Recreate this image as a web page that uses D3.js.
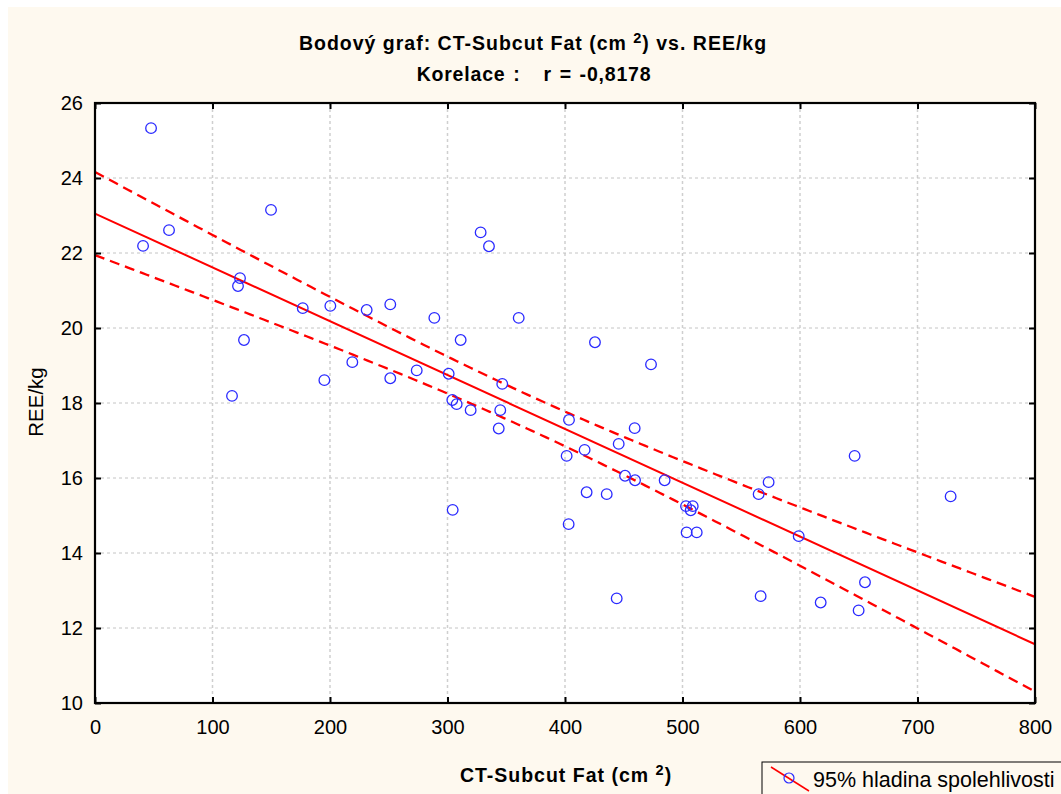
<!DOCTYPE html>
<html>
<head>
<meta charset="utf-8">
<script src="https://cdn.jsdelivr.net/npm/d3@7"></script>
<style>
  body { margin: 0; background: #ffffff; }
  text { font-family: "Liberation Sans", Arial, sans-serif; }
</style>
</head>
<body>
<div id="chart-container"></div>
<script>
// scatter of CT subcut fat vs REE/kg, with fitted line + 95% band
const svgWidth = 1061;
const svgHeight = 794;
const plot = { left: 95, right: 1035, top: 103, bottom: 703 };

// values
const fatValues = [47.7, 40.9, 63.0, 149.8, 123.4, 121.7, 126.8, 116.6, 176.8, 195.2,
    200.3, 328.2, 335.3, 231.2, 251.3, 288.8, 360.6, 311.2, 219.0, 251.3,
    273.8, 301.0, 346.6, 304.1, 307.8, 319.7, 344.9, 343.6, 403.4, 445.7,
    416.7, 401.4, 451.1, 418.4, 435.5, 304.4, 403.1, 444.0, 459.3, 459.6,
    484.8, 503.0, 508.7, 507.0, 503.5, 512.1, 564.8, 573.3, 566.5, 646.5,
    728.2, 598.9, 655.3, 617.6, 649.9, 425.5, 473.2];
const reeValues = [25.33, 22.19, 22.61, 23.15, 21.33, 21.12, 19.68, 18.19, 20.53, 18.61,
    20.59, 22.55, 22.18, 20.48, 20.63, 20.27, 20.27, 19.68, 19.09, 18.66,
    18.87, 18.78, 18.51, 18.08, 17.97, 17.81, 17.81, 17.32, 17.55, 16.91,
    16.75, 16.59, 16.06, 15.62, 15.57, 15.15, 14.77, 12.79, 17.33, 15.94,
    15.94, 15.25, 15.25, 15.14, 14.55, 14.55, 15.57, 15.89, 12.85, 16.59,
    15.51, 14.45, 13.22, 12.68, 12.47, 19.62, 19.03];
const xTicks = [0, 100, 200, 300, 400, 500, 600, 700, 800];
const yTicks = [10, 12, 14, 16, 18, 20, 22, 24, 26];

const data = fatValues.map((v, i) => ({ x: v, y: reeValues[i] }));

const svg = d3.select("#chart-container")
    .append("svg")
    .attr("width", svgWidth)
    .attr("height", svgHeight);

// cream background
svg.append("rect")
    .attr("x", 8).attr("y", 7)
    .attr("width", svgWidth - 8).attr("height", svgHeight - 7)
    .attr("fill", "#fef9ef");

const x = d3.scaleLinear().domain([0, 800]).range([plot.left, plot.right]);
const y = d3.scaleLinear().domain([10, 26]).range([plot.bottom, plot.top]);

svg.append("rect")
    .attr("x", plot.left).attr("y", plot.top)
    .attr("width", plot.right - plot.left).attr("height", plot.bottom - plot.top)
    .attr("fill", "#ffffff");

// grid
svg.append("g").selectAll("line")
    .data(xTicks.slice(1, -1))
    .enter().append("line")
    .attr("x1", d => x(d)).attr("x2", d => x(d))
    .attr("y1", plot.top).attr("y2", plot.bottom)
    .attr("stroke", "#cfcfcf").attr("stroke-width", 1.5)
    .attr("stroke-dasharray", "3,3");
svg.append("g").selectAll("line")
    .data(yTicks.slice(1, -1))
    .enter().append("line")
    .attr("y1", d => y(d)).attr("y2", d => y(d))
    .attr("x1", plot.left).attr("x2", plot.right)
    .attr("stroke", "#c4c4c4").attr("stroke-width", 1)
    .attr("stroke-dasharray", "3,3");

// least squares fit
const n = data.length;
const mx = d3.mean(data, d => d.x);
const my = d3.mean(data, d => d.y);
const sxx = d3.sum(data, d => (d.x - mx) ** 2);
const sxy = d3.sum(data, d => (d.x - mx) * (d.y - my));
const slope = sxy / sxx;
const intercept = my - slope * mx;
const sres = Math.sqrt(d3.sum(data, d => (d.y - intercept - slope * d.x) ** 2) / (n - 2));
const tval = 2.004;

const grid = d3.range(0, 801, 4);
const band = k => grid.map(v => {
    const fit = intercept + slope * v;
    const se = sres * Math.sqrt(1 / n + (v - mx) ** 2 / sxx);
    return [v, fit + k * tval * se];
});
const line = d3.line().x(d => x(d[0])).y(d => y(d[1]));

svg.append("path")
    .datum([[0, intercept], [800, intercept + slope * 800]])
    .attr("d", line)
    .attr("fill", "none").attr("stroke", "#ff0000").attr("stroke-width", 2);
[1, -1].forEach(k => {
    svg.append("path")
        .datum(band(k))
        .attr("d", line)
        .attr("fill", "none").attr("stroke", "#ff0000").attr("stroke-width", 2.3)
        .attr("stroke-dasharray", "10,6");
});

// points
svg.append("g").selectAll("circle")
    .data(data)
    .enter().append("circle")
    .attr("cx", d => x(d.x))
    .attr("cy", d => y(d.y))
    .attr("r", 5.3)
    .attr("fill", "none")
    .attr("stroke", "#2a2aff")
    .attr("stroke-width", 1.3);

// frame + inward ticks
svg.append("rect")
    .attr("x", plot.left).attr("y", plot.top)
    .attr("width", plot.right - plot.left).attr("height", plot.bottom - plot.top)
    .attr("fill", "none").attr("stroke", "#000").attr("stroke-width", 2.2);

const xb = svg.append("g").attr("transform", `translate(0,${plot.bottom})`)
    .call(d3.axisBottom(x).tickValues(xTicks).tickSizeInner(-6).tickSizeOuter(0).tickPadding(17));
const xt = svg.append("g").attr("transform", `translate(0,${plot.top})`)
    .call(d3.axisTop(x).tickValues(xTicks).tickSizeInner(-6).tickSizeOuter(0).tickFormat(""));
const yl = svg.append("g").attr("transform", `translate(${plot.left},0)`)
    .call(d3.axisLeft(y).tickValues(yTicks).tickSizeInner(-6).tickSizeOuter(0).tickPadding(12));
const yr = svg.append("g").attr("transform", `translate(${plot.right},0)`)
    .call(d3.axisRight(y).tickValues(yTicks).tickSizeInner(-6).tickSizeOuter(0).tickFormat(""));
[xb, xt, yl, yr].forEach(g => {
    g.select(".domain").remove();
    g.selectAll("line").attr("stroke", "#000").attr("stroke-width", 2);
    g.selectAll("text").attr("font-size", 20).attr("fill", "#000")
        .attr("font-family", "'Liberation Sans', Arial, sans-serif");
});

// titles
const t1 = svg.append("text")
    .attr("x", 533).attr("y", 50)
    .attr("text-anchor", "middle")
    .attr("font-size", 19.5).attr("font-weight", "bold")
    .attr("letter-spacing", 1);
t1.append("tspan").text("Bodový graf: CT-Subcut Fat (cm ");
t1.append("tspan").text("2").attr("dy", -7).attr("font-size", 14.5);
t1.append("tspan").text(") vs. REE/kg").attr("dy", 7);

svg.append("text")
    .attr("x", 534).attr("y", 81)
    .attr("text-anchor", "middle")
    .attr("font-size", 19.5).attr("font-weight", "bold")
    .attr("letter-spacing", 0.8)
    .attr("word-spacing", 1.5)
    .attr("xml:space", "preserve")
    .style("white-space", "pre")
    .text("Korelace :   r = -0,8178");

const xl = svg.append("text")
    .attr("x", 566).attr("y", 782)
    .attr("text-anchor", "middle")
    .attr("font-size", 19.5).attr("font-weight", "bold")
    .attr("letter-spacing", 1);
xl.append("tspan").text("CT-Subcut Fat (cm ");
xl.append("tspan").text("2").attr("dy", -7).attr("font-size", 14.5);
xl.append("tspan").text(")").attr("dy", 7);

svg.append("text")
    .attr("transform", "translate(43,402) rotate(-90)")
    .attr("text-anchor", "middle")
    .attr("font-size", 20.5)
    .text("REE/kg");

// legend
const lg = svg.append("g");
lg.append("rect")
    .attr("x", 762).attr("y", 762)
    .attr("width", 320).attr("height", 50)
    .attr("fill", "#fef9ef").attr("stroke", "#000").attr("stroke-width", 1);
lg.append("line")
    .attr("x1", 771).attr("y1", 767).attr("x2", 809).attr("y2", 791)
    .attr("stroke", "#ff0000").attr("stroke-width", 1.5);
lg.append("circle")
    .attr("cx", 789).attr("cy", 778).attr("r", 5)
    .attr("fill", "none").attr("stroke", "#2a2aff").attr("stroke-width", 1.2);
lg.append("text")
    .attr("x", 813).attr("y", 787)
    .attr("font-size", 21.5)
    .text("95% hladina spolehlivosti");
</script>
</body>
</html>
